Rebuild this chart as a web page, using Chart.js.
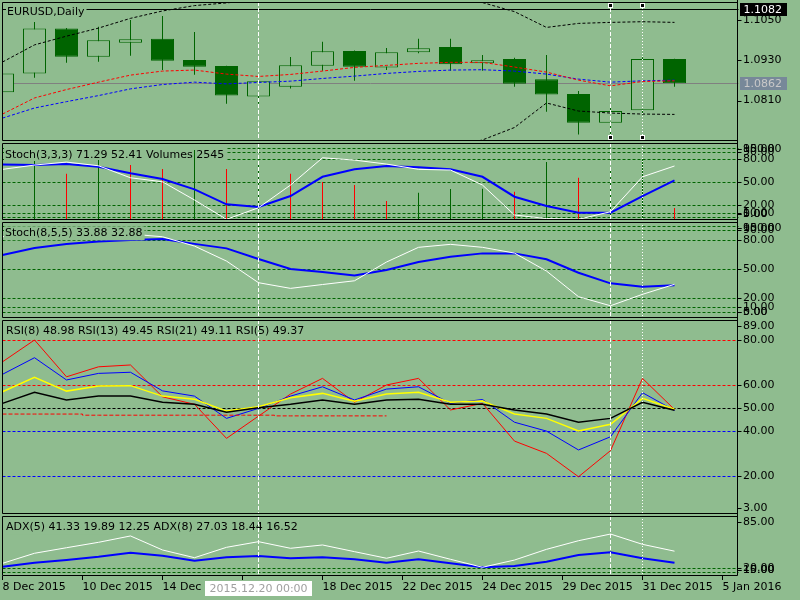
<!DOCTYPE html>
<html lang="en">
<head>
<meta charset="UTF-8">
<meta name="viewport" content="width=device-width, initial-scale=1.0">
<title>EURUSD,Daily</title>
<script src="https://cdn.jsdelivr.net/npm/chart.js"></script>
<style>
    html, body { margin: 0; padding: 0; }
    body {
        width: 800px;
        height: 600px;
        overflow: hidden;
        position: relative;
        background-color: #8fbc8f;
    }
    .pane { position: absolute; left: 0; width: 800px; }
</style>
</head>
<body>
<div class="pane" style="top:0;height:142px"><canvas id="priceChart"></canvas></div>
<div class="pane" style="top:142px;height:79px"><canvas id="stochFast"></canvas></div>
<div class="pane" style="top:221px;height:98px"><canvas id="stochSlow"></canvas></div>
<div class="pane" style="top:319px;height:196px"><canvas id="rsiChart"></canvas></div>
<div class="pane" style="top:515px;height:85px"><canvas id="adxChart"></canvas></div>

<script>
// ---- data (one value per daily bar) ----
const opens  = [1.0835, 1.0891, 1.1025, 1.0941, 1.0982, 1.0994, 1.0931, 1.0913, 1.0822, 1.0851, 1.0914,
                1.0958, 1.0909, 1.0954, 1.0970, 1.0921, 1.0934, 1.0874, 1.0830, 1.0744, 1.0781, 1.0934];
const highs  = [1.0898, 1.1044, 1.1026, 1.1030, 1.1050, 1.1062, 1.1014, 1.0914, 1.0868, 1.0940, 1.0985,
                1.0959, 1.0967, 1.0994, 1.0994, 1.0946, 1.0938, 1.0946, 1.0839, 1.0796, 1.0939, 1.0935];
const lows   = [1.0828, 1.0878, 1.0923, 1.0926, 1.0944, 1.0901, 1.0887, 1.0801, 1.0801, 1.0846, 1.0899,
                1.0869, 1.0901, 1.0951, 1.0899, 1.0899, 1.0851, 1.0777, 1.0709, 1.0709, 1.0769, 1.0851];
const closes = [1.0891, 1.1025, 1.0941, 1.0990, 1.0993, 1.0929, 1.0911, 1.0825, 1.0868, 1.0915, 1.0957,
                1.0911, 1.0954, 1.0966, 1.0918, 1.0930, 1.0860, 1.0828, 1.0744, 1.0779, 1.0934, 1.0862];

const bandUpper = [1.0925, 1.0976, 1.1002, 1.1026, 1.1055, 1.1077, 1.1093, 1.1101, 1.1110, 1.1118, 1.1122,
                   1.1124, 1.1122, 1.1118, 1.1110, 1.1102, 1.1075, 1.1028, 1.1040, 1.1043, 1.1045, 1.1043];
const bandLower = [1.0660, 1.0645, 1.0630, 1.0620, 1.0610, 1.0600, 1.0600, 1.0605, 1.0610, 1.0615, 1.0620,
                   1.0625, 1.0635, 1.0650, 1.0670, 1.0693, 1.0730, 1.0803, 1.0779, 1.0773, 1.0770, 1.0769];
const maRed  = [1.0770, 1.0818, 1.0843, 1.0865, 1.0886, 1.0898, 1.0901, 1.0889, 1.0882, 1.0888, 1.0898,
                1.0909, 1.0915, 1.0921, 1.0924, 1.0924, 1.0910, 1.0895, 1.0871, 1.0854, 1.0867, 1.0869];
const maBlue = [1.0758, 1.0788, 1.0807, 1.0825, 1.0845, 1.0858, 1.0865, 1.0860, 1.0864, 1.0868, 1.0876,
                1.0883, 1.0891, 1.0897, 1.0901, 1.0902, 1.0898, 1.0889, 1.0874, 1.0865, 1.0869, 1.0871];

const volumes = [11500, 12500, 9800, 12700, 11650, 10800, 14850, 10800, 12300, 9800, 8050,
                 7400, 4030, 5790, 6570, 6610, 6000, 12300, 8970, 11020, 13150, 2545];

const stochFastMain   = [66.9, 72.5, 76.4, 71.6, 55.9, 50.7, 26.9, 1.7, 16.8, 46.4, 82.0,
                         79.0, 73.8, 66.9, 66.0, 46.4, 7.3, 2.7, 1.7, 11.6, 57.2, 71.3];
const stochFastSignal = [73.4, 72.5, 73.8, 70.3, 61.7, 54.2, 40.8, 21.3, 17.7, 32.1, 57.2,
                         66.9, 71.2, 69.5, 66.9, 57.2, 31.2, 19.0, 10.3, 10.3, 32.1, 52.4];
const stochSlowMain   = [83.4, 86.2, 87.2, 87.2, 86.2, 83.4, 73.7, 58.1, 35.6, 29.7, 33.7,
                         37.6, 57.1, 72.4, 75.5, 72.4, 66.4, 47.7, 21.0, 11.6, 23.5, 33.9];
const stochSlowSignal = [64.4, 71.6, 75.8, 78.4, 80.0, 81.0, 76.0, 71.3, 60.2, 49.8, 46.7,
                         43.0, 48.8, 57.1, 62.6, 66.1, 66.1, 59.9, 46.0, 34.9, 31.4, 32.9];

const rsi5  = [70.4, 80.0, 63.8, 68.2, 69.0, 55.0, 51.7, 36.7, 46.5, 56.2, 63.1,
               52.6, 60.2, 63.1, 49.2, 52.1, 35.5, 30.1, 19.8, 31.3, 63.1, 49.4];
const rsi8  = [64.9, 72.2, 62.4, 65.3, 65.8, 57.6, 55.3, 45.5, 49.9, 55.3, 59.4,
               53.6, 58.4, 59.4, 52.1, 53.8, 43.8, 39.9, 31.6, 37.4, 56.8, 49.0];
const rsi13 = [57.2, 63.6, 57.5, 59.8, 59.9, 55.3, 53.9, 48.7, 50.6, 54.6, 56.5,
               53.1, 56.2, 57.0, 52.6, 53.1, 47.4, 45.5, 40.0, 42.9, 54.3, 49.5];
const rsi21 = [52.1, 57.0, 53.6, 55.3, 55.3, 52.6, 51.7, 48.2, 50.2, 51.7, 53.6,
               51.7, 53.6, 53.9, 51.7, 51.7, 49.2, 47.4, 43.8, 45.5, 52.6, 49.1];
const rsiMark = [47.4, 47.4, 47.4, 46.9, 46.9, 46.9, 46.9, 46.9, 46.9, 46.6, 46.6, 46.6, 46.6];

const adx5 = [26.2, 38.7, 45.6, 52.3, 60.2, 42.8, 33.2, 46.1, 53.1, 44.9, 49.0,
              40.7, 32.5, 41.5, 31.2, 21.3, 30.3, 43.6, 54.3, 62.6, 49.8, 41.3];
const adx8 = [22.0, 27.0, 30.3, 34.4, 39.4, 35.7, 29.5, 33.7, 35.3, 32.5, 33.7,
              31.2, 27.0, 31.2, 26.2, 21.3, 22.9, 28.2, 36.6, 39.9, 32.5, 27.0];

const dateTickPos = [0, 2.5, 5, 7.5, 10, 12.5, 15, 17.5, 20, 22.5];
const dateLabels  = ['8 Dec 2015', '10 Dec 2015', '14 Dec 2015', '16 Dec 2015', '18 Dec 2015',
                     '22 Dec 2015', '24 Dec 2015', '29 Dec 2015', '31 Dec 2015', '5 Jan 2016'];
const priceTicks = [1.1050, 1.0930, 1.0810];
const stochTicks = [100, 95, 90, 80, 50, 20, 10, 5, 0];
const stochLevels = [95, 90, 80, 50, 20, 10, 5];
const rsiTicks = [89, 80, 60, 50, 40, 20, 3];
const adxTicks = [85, 20, 15, 10];
const hLinePrice = 1.1082;
const bidPrice = 1.0862;
const crosshairBar = 8;
const crosshairLabel = '2015.12.20 00:00';
const vLineBars = [19, 20];

// ---- look ----
const BG = '#8fbc8f';
const DKGREEN = '#006400';
const FONT_FAMILY = 'DejaVu Sans';
const FONT = '11px "DejaVu Sans"';

const barIdx = opens.map((_, i) => i);
const pts = values => values.map((v, i) => ({ x: i, y: v }));

function lineSet(values, color, width, dash, yAxisID) {
    return {
        type: 'line', data: pts(values), borderColor: color, borderWidth: width,
        borderDash: dash || [], pointRadius: 0, tension: 0, fill: false,
        yAxisID: yAxisID || 'y', order: 1
    };
}

function baseOptions(yMin, yMax, padTop, padBottom) {
    return {
        responsive: true,
        maintainAspectRatio: false,
        animation: false,
        devicePixelRatio: 1,
        events: [],
        layout: { padding: { left: 2.5, right: 61.5, top: padTop, bottom: padBottom } },
        plugins: { legend: { display: false }, tooltip: { enabled: false } },
        scales: {
            x: { type: 'linear', min: 0, max: 23, offset: false, display: false },
            y: { type: 'linear', min: yMin, max: yMax, display: false }
        }
    };
}

// draws the MT4 style frame, levels, labels and vertical lines for one pane
function makePanel(cfg) {
    function drawTitle(chart) {
        const { ctx, chartArea: a } = chart;
        ctx.save();
        ctx.font = FONT;
        ctx.textBaseline = 'middle';
        ctx.textAlign = 'left';
        const w = ctx.measureText(cfg.title).width;
        ctx.fillStyle = BG;
        ctx.fillRect(cfg.tx - 1, a.top + cfg.ty - 7, w + 3, 14);
        ctx.fillStyle = '#000';
        ctx.fillText(cfg.title, cfg.tx, a.top + cfg.ty);
        ctx.restore();
    }
    return {
        id: 'mtPanel',
        beforeDatasetsDraw(chart) {
            const { ctx, chartArea: a, scales } = chart;
            ctx.save();
            ctx.lineWidth = 1;
            (cfg.levels || []).forEach(l => {
                const py = Math.round(scales.y.getPixelForValue(l.v)) + 0.5;
                ctx.strokeStyle = l.color || DKGREEN;
                ctx.setLineDash([3, 2]);
                ctx.beginPath();
                ctx.moveTo(a.left, py);
                ctx.lineTo(a.right, py);
                ctx.stroke();
            });
            ctx.restore();
            if (cfg.under) cfg.under(chart);
            if (cfg.titleUnder) drawTitle(chart);
        },
        afterDatasetsDraw(chart) {
            if (!cfg.titleUnder) drawTitle(chart);
            const { ctx, chartArea: a, scales } = chart;
            ctx.save();
            ctx.strokeStyle = '#ffffff';
            ctx.lineWidth = 1;
            [[crosshairBar, [4, 2]], [vLineBars[0], [4, 2]], [vLineBars[1], [1, 2]]].forEach(([b, dash]) => {
                const px = Math.floor(scales.x.getPixelForValue(b)) + 0.5;
                ctx.setLineDash(dash);
                ctx.beginPath();
                ctx.moveTo(px, a.top);
                ctx.lineTo(px, a.bottom);
                ctx.stroke();
            });
            ctx.restore();
        },
        afterDraw(chart) {
            const { ctx, chartArea: a, scales } = chart;
            const L = Math.floor(a.left) + 0.5;
            const R = Math.floor(a.right) - 0.5;
            const T = Math.round(a.top) + 0.5;
            const B = Math.round(a.bottom) - 0.5;
            ctx.save();
            ctx.strokeStyle = '#000';
            ctx.lineWidth = 1;
            ctx.beginPath();
            ctx.moveTo(L, T); ctx.lineTo(R, T);
            ctx.moveTo(L, B); ctx.lineTo(R, B);
            ctx.moveTo(L, T); ctx.lineTo(L, B);
            ctx.moveTo(R, 0); ctx.lineTo(R, cfg.last ? B : chart.height);
            ctx.stroke();

            ctx.font = FONT;
            ctx.fillStyle = '#000';
            ctx.textBaseline = 'middle';
            ctx.textAlign = 'left';
            cfg.ticks.forEach(v => {
                let py = scales.y.getPixelForValue(v);
                py = Math.min(Math.max(py, a.top + 6), a.bottom - 6);
                const ty = Math.round(py) + 0.5;
                ctx.beginPath();
                ctx.moveTo(R, ty);
                ctx.lineTo(R + 4, ty);
                ctx.stroke();
                ctx.fillText(v.toFixed(cfg.digits), R + 5.5, py);
            });
            ctx.restore();
            if (cfg.over) cfg.over(chart);
        }
    };
}

function priceBox(ctx, text, py, fill, color, right) {
    ctx.fillStyle = fill;
    ctx.fillRect(right + 2, Math.round(py) - 6, 47, 13);
    ctx.fillStyle = color;
    ctx.fillText(text, right + 5.5, py + 0.5);
}

// ---- price pane ----
const upColor = closes.map((c, i) => c >= opens[i]);
const priceOpts = baseOptions(1.06898, 1.11037, 2, 1);
new Chart(document.getElementById('priceChart'), {
    type: 'line',
    data: {
        datasets: [
            {
                type: 'bar', data: barIdx.map(i => ({ x: i, y: [lows[i], highs[i]] })),
                backgroundColor: DKGREEN, borderWidth: 0, barThickness: 1, grouped: false,
                inflateAmount: 0, order: 4
            },
            {
                type: 'bar', data: barIdx.map(i => ({ x: i, y: [opens[i], closes[i]] })),
                backgroundColor: upColor.map(u => u ? BG : DKGREEN), borderColor: DKGREEN,
                borderWidth: 1, borderSkipped: false, barThickness: 23, grouped: false,
                inflateAmount: 0, order: 3
            },
            lineSet(bandUpper, '#000000', 1, [3, 2]),
            lineSet(bandLower, '#000000', 1, [3, 2]),
            lineSet(maRed, '#ff0000', 1, [3, 2]),
            lineSet(maBlue, '#0000ff', 1, [3, 2])
        ]
    },
    options: priceOpts,
    plugins: [makePanel({
        title: 'EURUSD,Daily', tx: 7, ty: 10, ticks: priceTicks, digits: 4,
        under(chart) {
            const { ctx, chartArea: a, scales } = chart;
            ctx.save();
            ctx.lineWidth = 1;
            [[hLinePrice, '#000000'], [bidPrice, '#808080']].forEach(([p, c]) => {
                const py = Math.round(scales.y.getPixelForValue(p)) + 0.5;
                ctx.strokeStyle = c;
                ctx.beginPath();
                ctx.moveTo(a.left, py);
                ctx.lineTo(a.right, py);
                ctx.stroke();
            });
            ctx.restore();
        },
        over(chart) {
            const { ctx, chartArea: a, scales } = chart;
            ctx.save();
            vLineBars.forEach(b => {
                const px = Math.floor(scales.x.getPixelForValue(b));
                [a.top + 3, a.bottom - 4].forEach(py => {
                    ctx.fillStyle = '#ffffff';
                    ctx.fillRect(px - 2, Math.round(py) - 2, 5, 5);
                    ctx.fillStyle = '#000000';
                    ctx.fillRect(px - 1, Math.round(py) - 1, 3, 3);
                });
            });
            ctx.font = FONT;
            ctx.textBaseline = 'middle';
            const R = Math.floor(a.right);
            priceBox(ctx, hLinePrice.toFixed(4), scales.y.getPixelForValue(hLinePrice), '#000000', '#ffffff', R);
            priceBox(ctx, bidPrice.toFixed(4), scales.y.getPixelForValue(bidPrice), '#778899', '#c8c8c8', R);
            ctx.restore();
        }
    })]
});

// ---- Stoch(3,3,3) + volumes ----
const volOpts = baseOptions(0.8, 101.3, 1, 1);
volOpts.scales.yv = { type: 'linear', min: 0, max: 16330, display: false };
new Chart(document.getElementById('stochFast'), {
    type: 'line',
    data: {
        datasets: [
            {
                type: 'bar', yAxisID: 'yv', data: pts(volumes),
                backgroundColor: volumes.map((v, i) => (i === 0 || v > volumes[i - 1]) ? DKGREEN : '#ff0000'),
                borderWidth: 0, barThickness: 1, grouped: false, inflateAmount: 0, order: 3
            },
            lineSet(stochFastMain, '#ffffff', 1),
            lineSet(stochFastSignal, '#0000ff', 2)
        ]
    },
    options: volOpts,
    plugins: [makePanel({
        title: 'Stoch(3,3,3) 71.29 52.41 Volumes 2545', tx: 5, ty: 12, titleUnder: true,
        ticks: stochTicks, digits: 2, levels: stochLevels.map(v => ({ v }))
    })]
});

// ---- Stoch(8,5,5) ----
new Chart(document.getElementById('stochSlow'), {
    type: 'line',
    data: {
        datasets: [
            lineSet(stochSlowMain, '#ffffff', 1),
            lineSet(stochSlowSignal, '#0000ff', 2)
        ]
    },
    options: baseOptions(-1.14, 98.75, 1, 1),
    plugins: [makePanel({
        title: 'Stoch(8,5,5) 33.88 32.88', tx: 5, ty: 11.3,
        ticks: stochTicks, digits: 2, levels: stochLevels.map(v => ({ v }))
    })]
});

// ---- RSI ----
const rsiMarkSet = lineSet(rsiMark, '#ff0000', 1, [4, 2]);
rsiMarkSet.stepped = 'middle';
new Chart(document.getElementById('rsiChart'), {
    type: 'line',
    data: {
        datasets: [
            rsiMarkSet,
            lineSet(rsi21, '#000000', 1.5),
            lineSet(rsi13, '#ffff00', 1.5),
            lineSet(rsi8, '#0000ff', 1),
            lineSet(rsi5, '#ff0000', 1)
        ]
    },
    options: baseOptions(3.41, 88.8, 1, 1),
    plugins: [makePanel({
        title: 'RSI(8) 48.98 RSI(13) 49.45 RSI(21) 49.11 RSI(5) 49.37', tx: 6, ty: 11,
        ticks: rsiTicks, digits: 2,
        levels: [
            { v: 80, color: '#ff0000' }, { v: 60, color: '#ff0000' }, { v: 50, color: '#000000' },
            { v: 40, color: '#0000ff' }, { v: 20, color: '#0000ff' }
        ]
    })]
});

// ---- ADX + time axis ----
const adxOpts = baseOptions(10.47, 85, 1, 0);
adxOpts.scales.x = {
    type: 'linear', min: 0, max: 23, offset: false, display: true,
    border: { display: false },
    grid: { display: true, drawOnChartArea: false, drawTicks: true, tickLength: 4, color: '#000000', lineWidth: 1 },
    ticks: {
        autoSkip: false, maxRotation: 0, minRotation: 0, align: 'start', padding: 1,
        color: '#000000', font: { family: FONT_FAMILY, size: 11 },
        callback: (v, i) => dateLabels[i]
    },
    afterBuildTicks: s => { s.ticks = dateTickPos.map(v => ({ value: v })); },
    afterFit: s => { s.height = 24; }
};
new Chart(document.getElementById('adxChart'), {
    type: 'line',
    data: {
        datasets: [
            lineSet(adx5, '#ffffff', 1),
            lineSet(adx8, '#0000ff', 2)
        ]
    },
    options: adxOpts,
    plugins: [makePanel({
        title: 'ADX(5) 41.33 19.89 12.25 ADX(8) 27.03 18.44 16.52', tx: 6, ty: 11.3,
        ticks: adxTicks, digits: 2, last: true,
        levels: [{ v: 20 }, { v: 15 }],
        over(chart) {
            const { ctx, chartArea: a, scales } = chart;
            ctx.save();
            ctx.font = FONT;
            const px = Math.floor(scales.x.getPixelForValue(crosshairBar)) + 0.5;
            const w = ctx.measureText(crosshairLabel).width + 9;
            ctx.fillStyle = '#ffffff';
            ctx.fillRect(Math.round(px - w / 2), a.bottom + 5, Math.round(w), 15);
            ctx.fillStyle = '#a0a0a0';
            ctx.textAlign = 'center';
            ctx.textBaseline = 'middle';
            ctx.fillText(crosshairLabel, px, a.bottom + 13);
            ctx.restore();
        }
    })]
});
</script>
</body>
</html>
